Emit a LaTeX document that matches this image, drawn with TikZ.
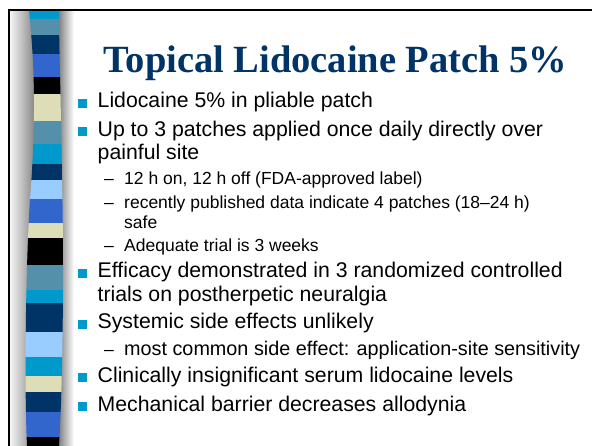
\documentclass[tikz,border=0pt]{standalone}
\usepackage{fontspec}
\setmainfont{Liberation Sans}
\newfontfamily\titlefont{Liberation Serif}
\usetikzlibrary{positioning}

\definecolor{slidenavy}{HTML}{003366}
\definecolor{slidecyan}{HTML}{0099CC}
\definecolor{slidesteel}{HTML}{5490AA}
\definecolor{slideroyal}{HTML}{3366CC}
\definecolor{slidebeige}{HTML}{DDDDB8}
\definecolor{slidelight}{HTML}{99CCFF}

\begin{document}
\begin{tikzpicture}[
    x=1pt, y=-1pt,
    title/.style={anchor=base, inner sep=0pt, text=slidenavy,
                  font=\titlefont\bfseries\fontsize{38.5}{40}\selectfont},
    item/.style={anchor=base west, inner sep=0pt, text height=14pt, text depth=5pt,
                 font=\fontsize{21.25}{23}\selectfont},
    subitem/.style={anchor=base west, inner sep=0pt, text height=12pt, text depth=4pt,
                    font=\fontsize{17.5}{19}\selectfont},
    sqbullet/.style={fill=slidecyan, minimum size=9pt, inner sep=0pt, left=10.5pt of #1},
    dashmark/.style={inner sep=0pt, text height=12pt, text depth=4pt,
                     font=\fontsize{17.5}{19}\selectfont, left=10pt of #1},
    panel/.style={inner sep=0pt, outer sep=0pt, anchor=north west}
  ]
  \useasboundingbox (0,0) rectangle (592,446);

  % ---- left bar: shading and stripes ----
  \node[panel, minimum width=26pt, minimum height=436pt,
        left color=black!4, right color=black!50] (shadeL) at (10,11) {};
  \node[panel, minimum width=18pt, minimum height=436pt,
        left color=black!58, right color=white] (shadeR) at (56,11) {};
  \begin{scope}
    \clip (29,10) .. controls (35,70) and (36,120) .. (30,200)
          .. controls (26,260) and (24,380) .. (27,446)
          -- (59,446) .. controls (63,380) and (64,260) .. (62,180)
          .. controls (61,100) and (59,50) .. (59,10) -- cycle;
    \foreach \ya/\yb/\col in {10/19/slidecyan, 19/35/slidesteel, 35/54/slidenavy,
        54/77/slideroyal, 77/94/black, 94/121/slidebeige, 121/144/slidesteel,
        144/164/slidecyan, 164/180/slidenavy, 180/199/slidelight, 199/223/slideroyal,
        223/238/slidebeige, 238/265/black, 265/290/slidesteel, 290/303/slidecyan,
        303/332/slidenavy, 332/357/slidelight, 357/376/slidecyan, 376/392/slidebeige,
        392/412/slidenavy, 412/437/slideroyal, 437/446/black}
      \fill[\col] (20,\ya) rectangle (70,\yb);
  \end{scope}

  % ---- frame ----
  \node[panel, fill=black, minimum width=585pt, minimum height=2pt] (frameT) at (8,9) {};
  \node[panel, fill=black, minimum width=2pt, minimum height=438pt] (frameL) at (8,9) {};

  % ---- title ----
  \node[title] (head) at (335.5,72.5) {Topical Lidocaine Patch 5\%};

  % ---- first level ----
  \node[item] (lido)   at (97.5,108)   {Lidocaine 5\% in pliable patch};
  \node[item] (upto)   at (97.5,136.5) {Up to 3 patches applied once daily directly over};
  \node[item] (upto2)  at (97.5,159.5) {painful site};
  \node[item] (effic)  at (97.5,278)   {Efficacy demonstrated in 3 randomized controlled};
  \node[item] (effic2) at (97.5,301.5) {trials on postherpetic neuralgia};
  \node[item] (system) at (97.5,329)   {Systemic side effects unlikely};
  \node[item] (clin)   at (97.5,382.5) {Clinically insignificant serum lidocaine levels};
  \node[item] (mech)   at (97.5,411)   {Mechanical barrier decreases allodynia};

  % ---- second level ----
  \node[subitem] (sub12)     at (124,185)   {12 h on, 12 h off (FDA-approved label)};
  \node[subitem] (subrec)    at (124,209)   {recently published data indicate 4 patches (18–24 h)};
  \node[subitem] (subrec2)   at (124,229)   {safe};
  \node[subitem] (subadeq)   at (124,251.5) {Adequate trial is 3 weeks};
  \node[subitem, font=\fontsize{19.8}{21}\selectfont] (subcommon) at (124,356)
    {most common side effect: application-site sensitivity};

  % ---- markers ----
  \foreach \n in {lido,upto,effic,system,clin,mech}
    \node[sqbullet=\n] (sq-\n) {};
  \foreach \n in {sub12,subrec,subadeq,subcommon}
    \node[dashmark=\n] (dash-\n) {–};
\end{tikzpicture}
\end{document}
